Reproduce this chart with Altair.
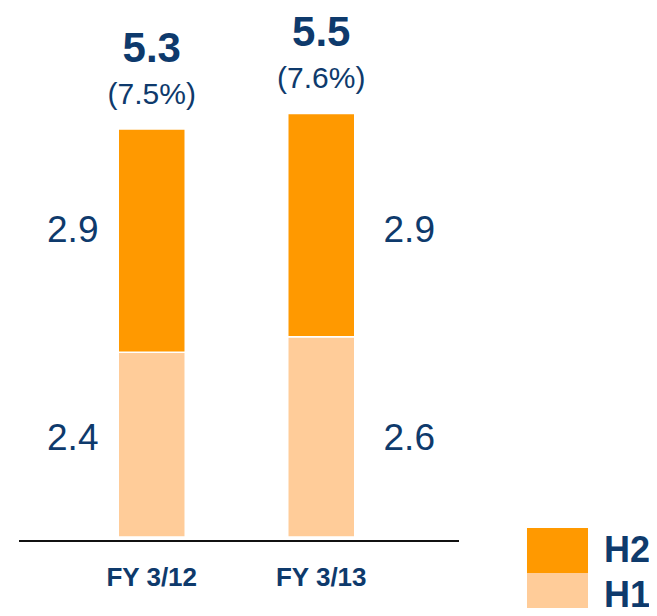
import altair as alt
import pandas as pd

categories = ["FY 3/12", "FY 3/13"]
h1_values = [2.4, 2.6]
h2_values = [2.9, 2.9]
totals = [5.3, 5.5]
pct_labels = ["(7.5%)", "(7.6%)"]
series = ["H2", "H1"]
colors = ["#FF9900", "#FFCC99"]

NAVY = "#0E3A6C"
REG = "Liberation Sans, Arial, sans-serif"

rows = []
for c, a, b in zip(categories, h1_values, h2_values):
    rows.append({"cat": c, "series": "H1", "value": a, "label": f"{a:.1f}"})
    rows.append({"cat": c, "series": "H2", "value": b, "label": f"{b:.1f}"})
seg = pd.DataFrame(rows)
tot = pd.DataFrame({"cat": categories, "total": totals, "total_label": [f"{t:.1f}" for t in totals], "pct": pct_labels})
cats = pd.DataFrame({"cat": categories})

xs = alt.X("cat:N", scale=alt.Scale(range=[59, 398], paddingInner=0, paddingOuter=0), axis=None, sort=categories)
ysc = alt.Scale(domain=[-0.922, 6.870], nice=False, zero=False)

stacked = alt.Chart(seg).transform_stack(
    stack="value", groupby=["cat"], as_=["y0", "y1"], sort=[alt.SortField("series", order="ascending")]
)

bars = stacked.mark_bar(size=67, stroke="white", strokeWidth=1.5).encode(
    x=xs,
    y=alt.Y("y0:Q", scale=ysc, axis=None),
    y2="y1:Q",
    color=alt.Color(
        "series:N",
        scale=alt.Scale(domain=series, range=colors),
        legend=alt.Legend(
            title=None,
            orient="none",
            legendX=527,
            legendY=520,
            padding=0,
            symbolType="M-1.356,-1H1.356V1H-1.356Z",
            symbolSize=2025,
            symbolStrokeWidth=0,
            symbolOpacity=1,
            rowPadding=0,
            labelFont=REG,
            labelFontWeight="bold",
            labelFontSize=36,
            labelColor=NAVY,
            labelOffset=24,
        ),
    ),
)

labels_base = stacked.transform_calculate(mid="(datum.y0 + datum.y1) / 2").transform_joinaggregate(
    ymid="mean(mid)", groupby=["series"]
)

def value_labels(cat, dx):
    return labels_base.transform_filter(alt.datum.cat == cat).mark_text(
        font=REG, fontSize=37, color=NAVY, baseline="middle", align="center", dx=dx, dy=-2
    ).encode(x=xs, y=alt.Y("ymid:Q", scale=ysc), text="label:N")

lab1 = value_labels(categories[0], -79)
lab2 = value_labels(categories[1], 88)

tot_text = alt.Chart(tot).mark_text(
    font=REG, fontSize=42, fontWeight="bold", color=NAVY, baseline="middle", align="center", dy=-80
).encode(x=xs, y=alt.Y("total:Q", scale=ysc), text="total_label:N")

pct_text = alt.Chart(tot).mark_text(
    font=REG, fontSize=30, color=NAVY, baseline="middle", align="center", dy=-34
).encode(x=xs, y=alt.Y("total:Q", scale=ysc), text="pct:N")

cat_text = alt.Chart(cats).mark_text(
    font=REG, fontSize=26, fontWeight="bold", color=NAVY, baseline="middle", align="center", dy=41
).encode(x=xs, y=alt.datum(0, scale=ysc), text="cat:N")

baseline = alt.Chart(cats).mark_rule(color="#111111", strokeWidth=2, yOffset=4).encode(
    x=alt.value(11), x2=alt.value(451), y=alt.datum(0, scale=ysc)
)

chart = alt.layer(bars, lab1, lab2, tot_text, pct_text, cat_text, baseline).properties(
    width=641, height=600, padding=0, autosize=alt.AutoSizeParams(type="none")
).configure_view(stroke=None)

chart.save("out.html", embed_options={"renderer": "svg", "actions": False})
